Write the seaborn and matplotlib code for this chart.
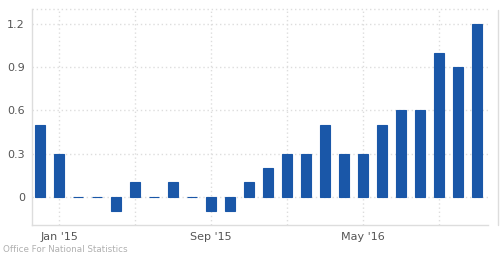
import matplotlib
matplotlib.use("Agg")
import matplotlib.pyplot as plt
import seaborn as sns
import pandas as pd
from matplotlib.lines import Line2D

months = ["Dec '14", "Jan '15", "Feb '15", "Mar '15", "Apr '15", "May '15", "Jun '15",
          "Jul '15", "Aug '15", "Sep '15", "Oct '15", "Nov '15", "Dec '15", "Jan '16",
          "Feb '16", "Mar '16", "Apr '16", "May '16", "Jun '16", "Jul '16", "Aug '16",
          "Sep '16", "Oct '16", "Nov '16"]
values = [0.5, 0.3, 0.0, 0.0, -0.1, 0.1, 0.0, 0.1, 0.0, -0.1, -0.1, 0.1, 0.2, 0.3,
          0.3, 0.5, 0.3, 0.3, 0.5, 0.6, 0.6, 1.0, 0.9, 1.2]
yticks = [0, 0.3, 0.6, 0.9, 1.2]
ytick_labels = ["0", "0.3", "0.6", "0.9", "1.2"]
grid_months = ["Jan '15", "May '15", "Sep '15", "Jan '16", "May '16", "Sep '16"]
label_months = ["Jan '15", "Sep '15", "May '16"]
source = "Office For National Statistics"

df = pd.DataFrame({"month": months, "value": values})

sns.set_style("white")
plt.rcParams['font.family'] = ['DejaVu Sans']

fig = plt.figure(figsize=(5.02, 2.6), dpi=100)
ax = fig.add_axes([32/502, 1-225/260, (488-32)/502, (225-9)/260])

bar_color = "#1a57a8"
sns.barplot(data=df, x="month", y="value", color=bar_color, width=0.53,
            saturation=1, ax=ax, edgecolor=bar_color, linewidth=0.8, zorder=3)

ax.set_xlim(-0.44, 23.58)
ax.set_ylim(-0.195, 1.304)

ax.set_yticks(yticks)
ax.set_yticklabels(ytick_labels)

gpos = [months.index(m) for m in grid_months]
for p in gpos:
    ax.axvline(p, color="#dddddd", linestyle=(0, (1, 2)), linewidth=1, zorder=0)
for y in yticks:
    ax.axhline(y, color="#dddddd", linestyle=(0, (1, 2)), linewidth=1, zorder=0)
ax.axhline(1.304, color="#dddddd", linestyle=(0, (1, 2)), linewidth=1, zorder=0, clip_on=False)

lpos = [months.index(m) for m in label_months]
ax.set_xticks(lpos)
ax.set_xticklabels(label_months)

ax.tick_params(axis="both", length=0, labelsize=8, colors="#555555")
ax.tick_params(axis="x", pad=5)
ax.tick_params(axis="y", pad=5)
ax.set_xlabel("")
ax.set_ylabel("")

for s in ["top", "right"]:
    ax.spines[s].set_visible(False)
ax.spines["left"].set_color("#dddddd")
ax.spines["left"].set_linewidth(1)
ax.spines["bottom"].set_color("#dddddd")
ax.spines["bottom"].set_linewidth(1)

fig.add_artist(Line2D([498/502, 498/502], [1-225/260, 1-10/260], color="#dddddd", linewidth=1))

fig.text(3/502, 1-249/260, source, fontsize=6.3, color="#b0b0b0", va="center", ha="left")

fig.savefig("out.png", dpi=100)
